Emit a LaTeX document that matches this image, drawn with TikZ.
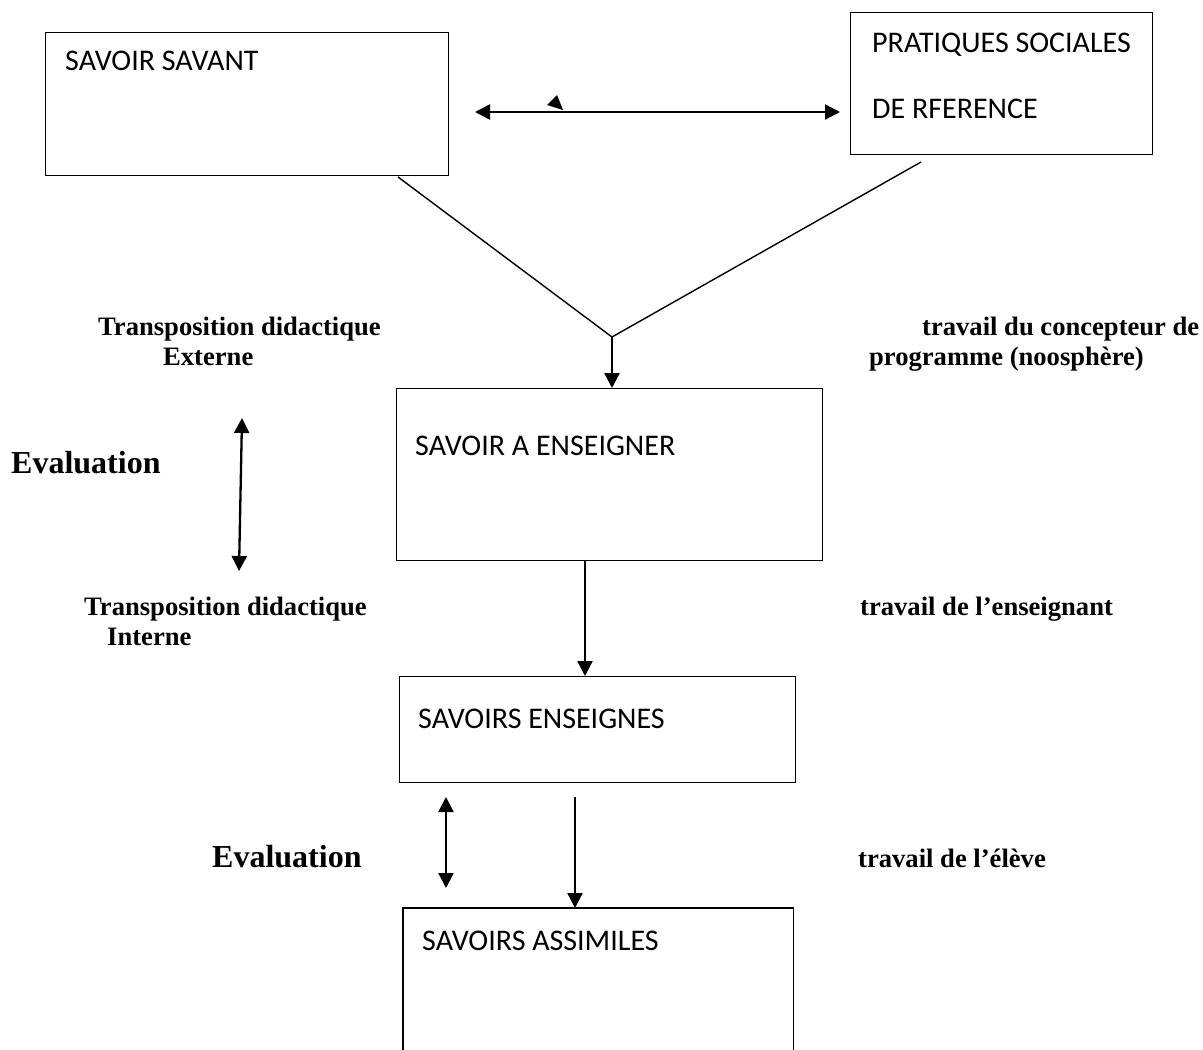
\documentclass[tikz,border=0pt]{standalone}
\usepackage{fontspec}
\setmainfont{Liberation Serif}
\newfontfamily\boxfont{Carlito}
\usetikzlibrary{arrows.meta}
\tikzset{
  boxnode/.style={draw, line width=1.4pt, anchor=north west, inner sep=0pt},
  boxtext/.style={anchor=base west, inner sep=0pt, font=\boxfont\fontsize{30}{36}\selectfont},
  lbl/.style={anchor=base west, inner sep=0pt, font=\bfseries\fontsize{26.6}{30}\selectfont},
  evallbl/.style={anchor=base west, inner sep=0pt, font=\bfseries\fontsize{32}{36}\selectfont},
  conn/.style={line width=2.3pt, -{Triangle[length=15pt,width=15pt]}},
  dconn/.style={line width=2.3pt, {Triangle[length=15pt,width=15pt]}-{Triangle[length=15pt,width=15pt]}},
  thin/.style={line width=1.4pt}
}
\begin{document}
\begin{tikzpicture}[x=1pt,y=-1pt]
\useasboundingbox (0,0) rectangle (1203,1050);
% boxes
\node[boxnode, minimum width=403pt, minimum height=143pt] (ss) at (45,32) {};
\node[boxtext] (sst) at (65,70) {SAVOIR SAVANT};
\node[boxnode, minimum width=302pt, minimum height=142pt] (ps) at (850,12) {};
\node[boxtext] (pst1) at (872,52) {PRATIQUES SOCIALES};
\node[boxtext] (pst2) at (872,118) {DE RFERENCE};
\node[boxnode, minimum width=426pt, minimum height=172pt] (se) at (396,388) {};
\node[boxtext] (set) at (415,455) {SAVOIR A ENSEIGNER};
\node[boxnode, minimum width=396pt, minimum height=106pt] (sen) at (399,676) {};
\node[boxtext] (sent) at (418,728) {SAVOIRS ENSEIGNES};
\node[anchor=north west, inner sep=0pt, minimum width=390pt, minimum height=145pt] (sa) at (403,908) {};
\draw[thin] (sa.south west) -- (sa.north west) -- (sa.north east) -- (sa.south east);
\node[boxtext] (sat) at (422,950) {SAVOIRS ASSIMILES};
% labels
\node[lbl] (tde1) at (98,335) {Transposition didactique};
\node[lbl] (tde2) at (163,365) {Externe};
\node[lbl] (tc1) at (922,335) {travail du concepteur de};
\node[lbl] (tc2) at (869,365) {programme (noosphère)};
\node[evallbl] (ev1) at (11,473) {Evaluation};
\node[lbl] (tdi1) at (84,615) {Transposition didactique};
\node[lbl] (tdi2) at (107,645) {Interne};
\node[lbl] (te) at (860,615) {travail de l’enseignant};
\node[evallbl] (ev2) at (212,867) {Evaluation};
\node[lbl] (tel) at (858,867) {travail de l’élève};
% connectors
\coordinate (h1) at (475,112);
\coordinate (h2) at (840,112);
\draw[dconn] (h1) -- (h2);
\fill (547,105) -- (557,95) -- (563,110) -- cycle;
\coordinate (l1) at (398,177);
\coordinate (l2) at (921,162);
\coordinate (j) at (612,337);
\draw[thin] (l1) -- (j) -- (l2);
\draw[conn] (j) -- (se.north -| j);
\coordinate (a1) at (585,560);
\draw[conn] (a1) -- (sen.north -| a1);
\coordinate (a2) at (575,797);
\draw[conn] (a2) -- (sa.north -| a2);
\coordinate (e1a) at (242,418);
\coordinate (e1b) at (239,571);
\draw[dconn] (e1a) -- (e1b);
\coordinate (e2a) at (446,797);
\coordinate (e2b) at (446,888);
\draw[dconn] (e2a) -- (e2b);
\end{tikzpicture}
\end{document}
